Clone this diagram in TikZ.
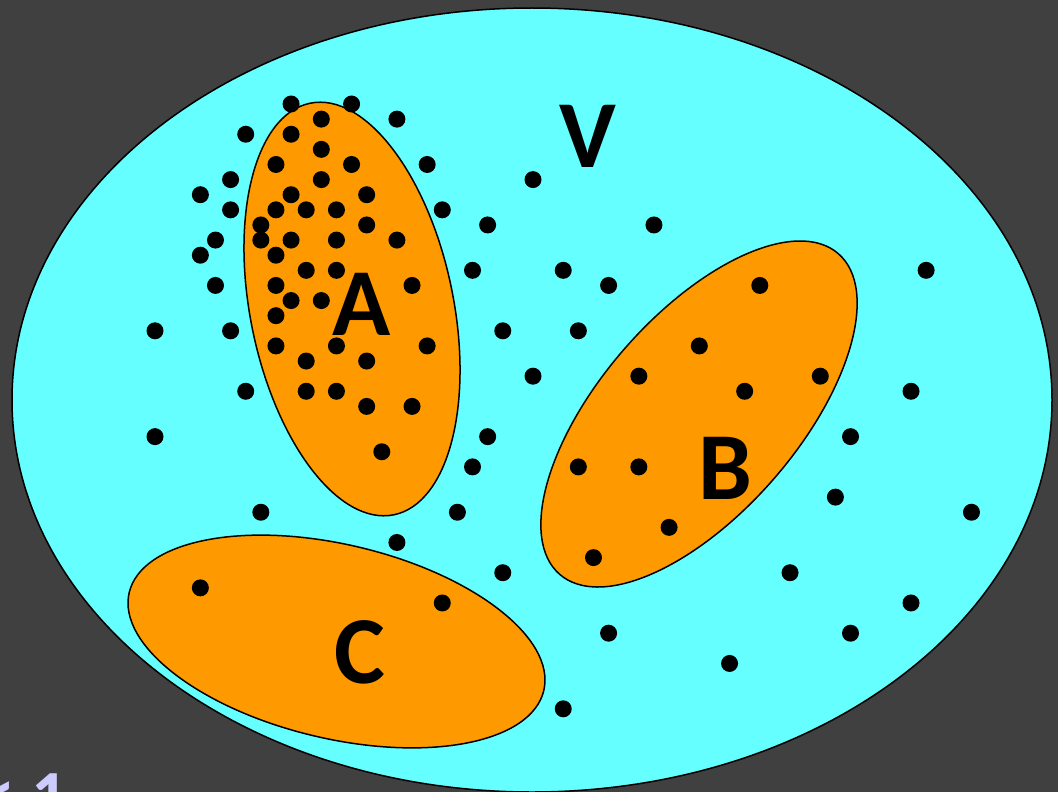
\documentclass[tikz,border=0pt]{standalone}
\usepackage{fontspec}
\setmainfont{Carlito}
\definecolor{bg}{RGB}{64,64,64}
\definecolor{cy}{RGB}{102,255,255}
\definecolor{orng}{RGB}{255,153,0}
\definecolor{lav}{RGB}{204,204,255}
\begin{document}
\begin{tikzpicture}[x=1pt,y=-1pt,
  universe/.style={draw=black,line width=1.5pt,fill=cy},
  subset/.style={draw=black,line width=1.5pt,fill=orng},
  dot/.style={fill=black},
  lbl/.style={font=\fontsize{96}{96}\selectfont\bfseries,inner sep=0pt,text=black},
  note/.style={font=\fontsize{72}{72}\selectfont\bfseries,inner sep=0pt,text=lav}]
\useasboundingbox (0,0) rectangle (1058,792);
\fill[bg] (0,0) rectangle (1058,792);
\begin{scope}
\clip (0,0) rectangle (1058,792);
\node[note,anchor=base west] (note) at (-21,820) {< 1};
\draw[universe] (532,400) ellipse [x radius=520pt, y radius=392pt];
\draw[subset, rotate around={11.5:(352,309)}] (352,309) ellipse [x radius=101.6pt, y radius=210pt];
\draw[subset, rotate around={49:(699,414)}] (699,414) ellipse [x radius=212.4pt, y radius=99pt];
\draw[subset, rotate around={-13.3:(336.5,641.5)}] (336.5,641.5) ellipse [x radius=213pt, y radius=97pt];
\foreach \k/\j in {9/0,13/0,16/1,11/1,6/2,9/2,11/3,8/4,13/4,18/4,5/5,11/5,3/6,9/6,14/6,
  5/7,8/7,10/7,12/7,19/7,7/8,14/8,22/8,4/9,7/9,9/9,12/9,16/9,3/10,8/10,10/11,12/11,21/11,
  4/12,8/12,17/12,9/13,11/13,8/14,0/15,5/15,23/15,8/16,12/16,18/16,10/17,14/17,
  6/19,10/19,12/19,14/20,17/20,0/22,22/22,15/23,21/24,7/27,20/27,
  25/5,33/8,27/11,30/12,28/15,25/18,40/12,36/16,32/18,39/19,44/18,28/24,32/24,
  51/11,50/19,46/22,45/26,54/27,
  34/28,29/30,42/31,50/33,46/35,38/37,30/35,23/31,27/40,16/29,19/33,3/32}
  \fill[dot] ({155+15.12*\k},{104+15.12*\j}) circle [radius=8.5pt];
\node[lbl] (lblV) at (588,136) {V};
\node[lbl] (lblA) at (362,304) {A};
\node[lbl] (lblB) at (725,468) {B};
\node[lbl] (lblC) at (360,652) {C};
\end{scope}
\end{tikzpicture}
\end{document}
